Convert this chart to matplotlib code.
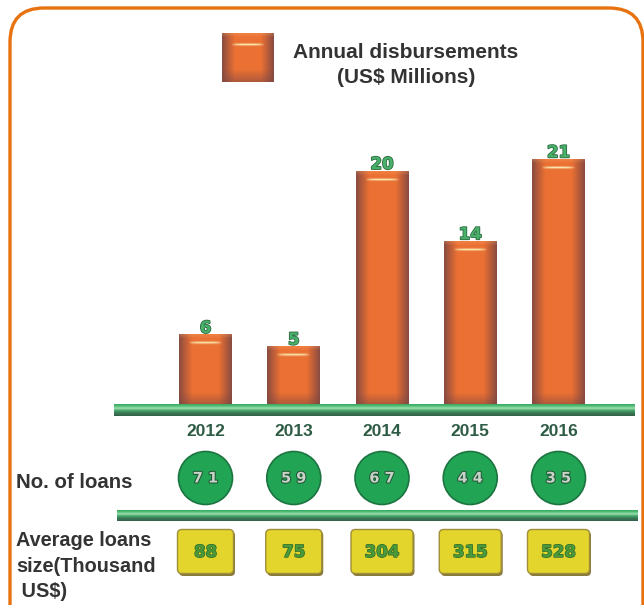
import numpy as np
import matplotlib
matplotlib.use("Agg")
import matplotlib.pyplot as plt
from matplotlib.patches import FancyBboxPatch, Ellipse
import matplotlib.patheffects as pe

# ---------------- data ----------------
years = ['2012', '2013', '2014', '2015', '2016']
disbursements = [6, 5, 20, 14, 21]          # US$ millions
num_loans = [71, 59, 67, 44, 35]
avg_loan_size = [88, 75, 304, 315, 528]     # thousand US$
legend_label = 'Annual disbursements\n(US$ Millions)'
row_labels = ['No. of loans', 'Average loans\nsize(Thousand\n US$)']

# ---------------- layout helpers ----------------
W, H = 644, 605
fig = plt.figure(figsize=(W / 100, H / 100), dpi=100)

def fbox(x0, y0, x1, y1):
    return [x0 / W, 1 - y1 / H, (x1 - x0) / W, (y1 - y0) / H]

ORANGE = np.array([0.92, 0.44, 0.20])
DARK = np.array([0.50, 0.28, 0.26])
CREAM = np.array([0.98, 0.90, 0.68])

def bar_image(nh, nw=52, hl_row=8):
    u = np.linspace(0, 1, nw)
    v = np.arange(nh)
    t = np.abs(2 * u - 1)
    mx = np.clip((t - 0.5) / 0.5, 0, 1) ** 1.1 * 0.9
    img = ORANGE[None, None, :] * (1 - mx[None, :, None]) + DARK * mx[None, :, None]
    img = np.repeat(img, nh, axis=0)
    dist_b = (nh - 1 - v)
    mb = np.clip(1 - dist_b / 12.0, 0, 1) * 0.55
    img = img * (1 - mb[:, None, None]) + DARK * mb[:, None, None]
    top = np.clip(1 - v / 4.0, 0, 1) * 0.25
    img = img * (1 - top[:, None, None]) + np.array([1.0, 0.7, 0.45]) * top[:, None, None]
    hl = np.exp(-((v - hl_row) / 1.1) ** 2)[:, None] * np.clip(1 - ((u - 0.5) / 0.32) ** 4, 0, 1)[None, :]
    img = img * (1 - hl[..., None]) + CREAM * hl[..., None]
    return np.clip(img, 0, 1)

def green_line_image(nw=200):
    stops = [(0.0, '#3aa860'), (0.18, '#58c47c'), (0.35, '#a6dfb6'),
             (0.5, '#4cb070'), (0.72, '#3b7d57'), (1.0, '#33604a')]
    from matplotlib.colors import LinearSegmentedColormap
    cm = LinearSegmentedColormap.from_list('g', stops)
    col = cm(np.linspace(0, 1, 24))[:, :3]
    return np.repeat(col[:, None, :], nw, axis=1)

# ---------------- decoration axes (pixel coords) ----------------
deco = fig.add_axes([0, 0, 1, 1], zorder=0)
deco.set_xlim(0, W)
deco.set_ylim(H, 0)
deco.axis('off')

frame = FancyBboxPatch((10, 8), 633, 640,
                       boxstyle='round,pad=0,rounding_size=34',
                       fc='white', ec='#e8720f', lw=2.4)
deco.add_patch(frame)

# legend swatch + text
deco.imshow(bar_image(49, 52, hl_row=11), extent=(222, 274, 82, 33),
            aspect='auto', interpolation='bilinear', zorder=3)
deco.text(406, 65, legend_label, ha='center', va='center',
          fontsize=15, fontweight='bold', color='#333333',
          family='Liberation Sans', linespacing=1.35)

# row labels
deco.text(16, 482, row_labels[0], ha='left', va='center', fontsize=14.7,
          fontweight='bold', color='#333333', family='Liberation Sans')
deco.text(16, 566, row_labels[1], ha='left', va='center', fontsize=14.3,
          fontweight='bold', color='#333333', family='Liberation Sans',
          linespacing=1.42)

# second separator line
deco.imshow(green_line_image(), extent=(117, 638, 521, 510),
            aspect='auto', interpolation='bilinear', zorder=3)

# ---------------- bar axes ----------------
PXX = 88.25     # px per category
PXY = 11.7      # px per million
x_left, x_right = 114, 635
xl = (x_left - 382) / PXX + 2
xr = (x_right - 382) / PXX + 2
base_px = 405
ymin = -11 / PXY
ymax = 22
ax = fig.add_axes(fbox(x_left, base_px - ymax * PXY, x_right, base_px - ymin * PXY), zorder=2)
ax.patch.set_alpha(0)
ax.set_xlim(xl, xr)
ax.set_ylim(ymin, ymax)
for s in ax.spines.values():
    s.set_visible(False)
ax.set_yticks([])

x = np.arange(len(years))
bars = ax.bar(x, disbursements, width=0.6, color='none', edgecolor='none')
for b in bars:
    x0, w, h = b.get_x(), b.get_width(), b.get_height()
    nh = max(int(round(h * PXY)), 2)
    ax.imshow(bar_image(nh, 52), extent=(x0, x0 + w, 0, h), origin='upper',
              aspect='auto', interpolation='bilinear', zorder=2)
for xi, v in zip(x, disbursements):
    ax.annotate(str(v), (xi, v), xytext=(0, -1.5), textcoords='offset points',
                ha='center', va='bottom', fontsize=12, fontweight='bold',
                color='#48b068', family='DejaVu Sans', zorder=4,
                path_effects=[pe.withStroke(linewidth=1.2, foreground='#2d6a42')])

# baseline green bar
ax.imshow(green_line_image(), extent=(xl, xr, ymin, 0.05), aspect='auto',
          interpolation='bilinear', zorder=3)
ax.set_xticks(x)
ax.set_xticklabels(years, fontsize=12.5, fontweight='bold', color='#2f5c45',
                   family='Liberation Sans')
ax.tick_params(axis='x', length=0, pad=6)
ax.set_xlim(xl, xr)
ax.set_ylim(ymin, ymax)

# ---------------- table axes (circles and boxes) ----------------
tab = fig.add_axes(fbox(x_left, 440, x_right, 600), zorder=2)
tab.patch.set_alpha(0)
tab.set_xlim(xl, xr)
tab.set_ylim(600, 440)
tab.axis('off')

circ_y, box_y = 478, 552
for xi, v in zip(x, num_loans):
    tab.add_patch(Ellipse((xi, circ_y), 54 / PXX, 53, fc='#22a455',
                          ec='#1c7440', lw=1.2))
    tab.text(xi, circ_y, ' '.join(str(v)), ha='center', va='center',
             fontsize=10.5, fontweight='bold', color='#c9d3c9',
             family='DejaVu Sans',
             path_effects=[pe.withStroke(linewidth=1.5, foreground='#1f5a35')])

for xi, v in zip(x, avg_loan_size):
    wpx = 56 if len(str(v)) < 3 else 62
    w = wpx / PXX
    tab.add_patch(FancyBboxPatch((xi - w / 2 + 1.5 / PXX, box_y - 22.5 + 1.5), w, 45,
                                 boxstyle='round,pad=0,rounding_size=0.05',
                                 mutation_aspect=PXX, fc='#8a7a3a', ec='none'))
    tab.add_patch(FancyBboxPatch((xi - w / 2, box_y - 22.5), w, 44,
                                 boxstyle='round,pad=0,rounding_size=0.05',
                                 mutation_aspect=PXX, fc='#e4d52c',
                                 ec='#a08e3a', lw=1.0))
    tab.text(xi, box_y, str(v), ha='center', va='center', fontsize=12,
             fontweight='bold', color='#4a9a3a', family='DejaVu Sans',
             path_effects=[pe.withStroke(linewidth=1.0, foreground='#2f6a2a')])

fig.savefig('out.png', dpi=100)
